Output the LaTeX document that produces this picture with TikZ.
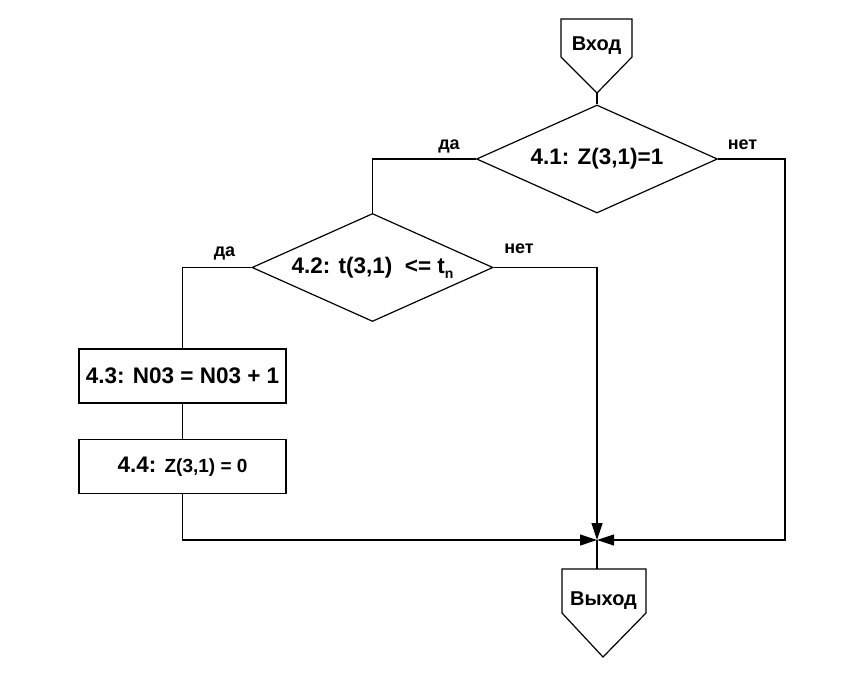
\documentclass[tikz,border=0pt]{standalone}
\usepackage{fontspec}
\setmainfont{Liberation Sans}
\usetikzlibrary{shapes.geometric,arrows.meta,calc}

\begin{document}
\begin{tikzpicture}[x=1pt,y=-1pt,line width=1.2pt,
  decision/.style={diamond,draw,aspect=2.23,minimum width=241pt,minimum height=108pt,
    inner sep=0pt,font=\bfseries\fontsize{22.5}{22.5}\selectfont},
  process/.style={rectangle,draw,minimum width=207pt,minimum height=54pt,
    inner sep=0pt,font=\bfseries\fontsize{22.5}{22.5}\selectfont},
  termtext/.style={inner sep=0pt,font=\bfseries\fontsize{20}{20}\selectfont},
  branch/.style={inner sep=0pt,anchor=base,font=\bfseries\fontsize{18}{18}\selectfont},
  flowarrow/.style={-{Triangle[length=17pt,width=11pt]}}]
\useasboundingbox (0,0) rectangle (861,676);

% entry terminal
\draw (561,19) -- (632,19) -- (632,57) -- (597,93) -- (561,57) -- cycle;
\node[termtext] (in) at (596.5,46) {Вход};
\coordinate (intip) at (597,93);

% decisions
\node[decision] (d1) at (597,159) {4.1: Z(3,1)=1};
\node[decision] (d2) at (372.5,267.5) {4.2: t(3,1)\ \ <= t\raisebox{-5pt}{\fontsize{14}{14}\selectfont n}};

% processes
\node[process] (p1) at (182.5,376) {4.3: N03 = N03 + 1};
\node[process] (p2) at (182.5,466.5) {4.4: {\fontsize{19}{19}\selectfont Z(3,1) = 0}};

% exit terminal
\draw (562,569) -- (646,569) -- (646,613) -- (603,657) -- (562,613) -- cycle;
\node[termtext] (out) at (603.5,601) {Выход};
\coordinate (outtop) at (597,569);

% helper points
\coordinate (j) at (597,540);
\coordinate (r1) at (785,159);

% branch labels
\node[branch] (y1) at (449,150) {да};
\node[branch] (n1) at (742.5,150) {нет};
\node[branch] (y2) at (224.5,256) {да};
\node[branch] (n2) at (519,253) {нет};

% connectors
\draw (intip) -- (d1.north);
\draw (d1.west) -| (d2.north);
\draw[flowarrow] (d1.east) -- (r1) |- (j);
\draw[flowarrow] (d2.east) -| (j);
\draw (d2.west) -| (p1.north);
\draw (p1.south) -- (p2.north);
\draw[flowarrow] (p2.south) |- (j);
\draw (j) -- (outtop);
\end{tikzpicture}
\end{document}
